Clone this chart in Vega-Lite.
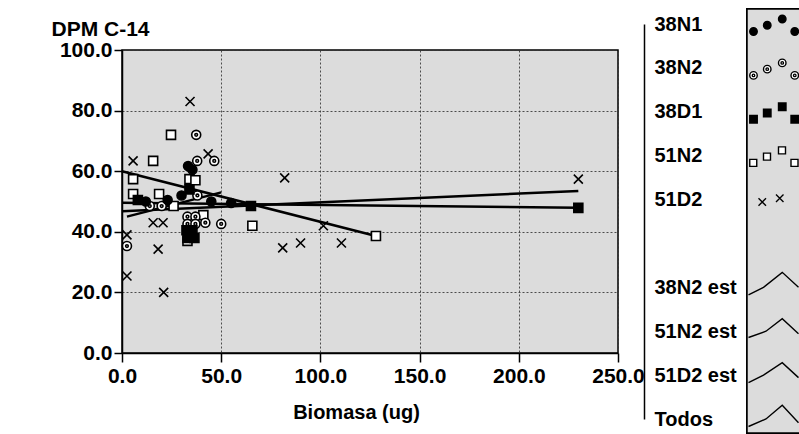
{
  "$schema": "https://vega.github.io/schema/vega-lite/v6.json",
  "background": "white",
  "padding": {"left": 50, "top": 8, "right": 0, "bottom": 0},
  "spacing": -2,
  "config": {
    "font": "Liberation Sans",
    "view": {"fill": "#dcdcdc", "stroke": "black", "strokeWidth": 1.5},
    "axis": {
      "labelFont": "Liberation Sans",
      "titleFont": "Liberation Sans",
      "labelFontWeight": "bold",
      "labelColor": "black",
      "titleColor": "black",
      "domainColor": "black",
      "tickColor": "black",
      "gridColor": "#333333",
      "gridDash": [2, 2],
      "gridOpacity": 0.85,
      "gridWidth": 1
    }
  },
  "resolve": {"scale": {"shape": "independent", "fill": "independent"}},
  "datasets": {
    "puntos": [
      {"serie": "51D2", "biomasa": 34.3, "dpm": 83},
      {"serie": "51D2", "biomasa": 5.6, "dpm": 63.4},
      {"serie": "51D2", "biomasa": 43.4, "dpm": 65.7},
      {"serie": "51D2", "biomasa": 2.5, "dpm": 39},
      {"serie": "51D2", "biomasa": 2.5, "dpm": 25.4},
      {"serie": "51D2", "biomasa": 21, "dpm": 20},
      {"serie": "51D2", "biomasa": 18.2, "dpm": 34.3},
      {"serie": "51D2", "biomasa": 15.7, "dpm": 43},
      {"serie": "51D2", "biomasa": 20.7, "dpm": 43},
      {"serie": "51D2", "biomasa": 82, "dpm": 57.8},
      {"serie": "51D2", "biomasa": 81, "dpm": 34.7},
      {"serie": "51D2", "biomasa": 90, "dpm": 36.3},
      {"serie": "51D2", "biomasa": 110.6, "dpm": 36.3},
      {"serie": "51D2", "biomasa": 101.5, "dpm": 42},
      {"serie": "51D2", "biomasa": 230, "dpm": 57.4},
      {"serie": "51N2", "biomasa": 24.7, "dpm": 72},
      {"serie": "51N2", "biomasa": 15.7, "dpm": 63.4},
      {"serie": "51N2", "biomasa": 5.6, "dpm": 57.4},
      {"serie": "51N2", "biomasa": 5.6, "dpm": 52.5},
      {"serie": "51N2", "biomasa": 18.7, "dpm": 52.5},
      {"serie": "51N2", "biomasa": 34, "dpm": 57.4},
      {"serie": "51N2", "biomasa": 37, "dpm": 57},
      {"serie": "51N2", "biomasa": 65.7, "dpm": 42},
      {"serie": "51N2", "biomasa": 128, "dpm": 38.6},
      {"serie": "51N2", "biomasa": 33, "dpm": 37},
      {"serie": "51N2", "biomasa": 26, "dpm": 48.5},
      {"serie": "51N2", "biomasa": 41, "dpm": 45.5},
      {"serie": "38N2", "biomasa": 37.4, "dpm": 72},
      {"serie": "38N2", "biomasa": 46.5, "dpm": 63.4},
      {"serie": "38N2", "biomasa": 37.9, "dpm": 63.4},
      {"serie": "38N2", "biomasa": 2.5, "dpm": 35.3},
      {"serie": "38N2", "biomasa": 50, "dpm": 42.6},
      {"serie": "38N2", "biomasa": 33, "dpm": 45},
      {"serie": "38N2", "biomasa": 37, "dpm": 45},
      {"serie": "38N2", "biomasa": 33, "dpm": 42.6},
      {"serie": "38N2", "biomasa": 37, "dpm": 42.6},
      {"serie": "38N2", "biomasa": 42, "dpm": 43},
      {"serie": "38N2", "biomasa": 14, "dpm": 48.5},
      {"serie": "38N2", "biomasa": 20, "dpm": 48.5},
      {"serie": "38N2", "biomasa": 38, "dpm": 52},
      {"serie": "38D1", "biomasa": 32.5, "dpm": 40.5},
      {"serie": "38D1", "biomasa": 35.5, "dpm": 40.5},
      {"serie": "38D1", "biomasa": 33, "dpm": 38},
      {"serie": "38D1", "biomasa": 36.5, "dpm": 38},
      {"serie": "38D1", "biomasa": 230, "dpm": 47.9},
      {"serie": "38D1", "biomasa": 65, "dpm": 48.5},
      {"serie": "38D1", "biomasa": 34, "dpm": 54},
      {"serie": "38D1", "biomasa": 8, "dpm": 50.5},
      {"serie": "38N1", "biomasa": 33.3, "dpm": 61.7},
      {"serie": "38N1", "biomasa": 35.5, "dpm": 60.5},
      {"serie": "38N1", "biomasa": 12, "dpm": 50},
      {"serie": "38N1", "biomasa": 23, "dpm": 50.5},
      {"serie": "38N1", "biomasa": 45, "dpm": 50},
      {"serie": "38N1", "biomasa": 55, "dpm": 49.5},
      {"serie": "38N1", "biomasa": 30, "dpm": 52}
    ],
    "rectas": [
      {"serie": "38N2 est", "biomasa": 2.5, "dpm": 45},
      {"serie": "38N2 est", "biomasa": 50, "dpm": 53},
      {"serie": "51N2 est", "biomasa": 0, "dpm": 60},
      {"serie": "51N2 est", "biomasa": 128, "dpm": 38.6},
      {"serie": "51D2 est", "biomasa": 0, "dpm": 46.8},
      {"serie": "51D2 est", "biomasa": 230, "dpm": 53.5},
      {"serie": "Todos", "biomasa": 0, "dpm": 49.6},
      {"serie": "Todos", "biomasa": 230, "dpm": 47.9}
    ],
    "leyenda": [
      {"entrada": "38N1"},
      {"entrada": "38N2"},
      {"entrada": "38D1"},
      {"entrada": "51N2"},
      {"entrada": "51D2"},
      {"entrada": "38N2 est"},
      {"entrada": "51N2 est"},
      {"entrada": "51D2 est"},
      {"entrada": "Todos"}
    ]
  },
  "hconcat": [
    {
      "width": 496,
      "height": 303,
      "encoding": {
        "x": {
          "field": "biomasa",
          "type": "quantitative",
          "scale": {"domain": [0, 250], "nice": false, "zero": true},
          "axis": {
            "title": "Biomasa (ug)",
            "values": [0, 50, 100, 150, 200, 250],
            "format": ".1f",
            "grid": true,
            "tickSize": 9,
            "tickWidth": 1.5,
            "domainWidth": 1.5,
            "labelPadding": 3,
            "labelFontSize": 21,
            "labelFlush": false,
            "labelOverlap": false,
            "titleFontSize": 20,
            "titleFontWeight": "bold",
            "titleX": 234,
            "titleY": 49,
            "titleBaseline": "top",
            "titleAlign": "center"
          }
        },
        "y": {
          "field": "dpm",
          "type": "quantitative",
          "scale": {"domain": [0, 100], "nice": false},
          "axis": {
            "title": "DPM C-14",
            "values": [0, 20, 40, 60, 80, 100],
            "format": ".1f",
            "grid": true,
            "tickSize": 8,
            "tickWidth": 1.5,
            "domainWidth": 1.5,
            "labelPadding": 2,
            "labelFontSize": 21,
            "labelOverlap": false,
            "titleAngle": 0,
            "titleAlign": "left",
            "titleBaseline": "bottom",
            "titleX": -71,
            "titleY": -11,
            "titleFontSize": 21,
            "titleFontWeight": "bold"
          }
        }
      },
      "layer": [
        {
          "data": {"name": "rectas"},
          "mark": {"type": "line", "color": "black", "strokeWidth": 2.5},
          "encoding": {"detail": {"field": "serie", "type": "nominal"}}
        },
        {
          "data": {"name": "puntos"},
          "mark": {"type": "point", "filled": true, "stroke": "black", "strokeWidth": 1.6, "size": 81, "opacity": 1},
          "encoding": {
            "shape": {
              "field": "serie",
              "type": "nominal",
              "scale": {
                "domain": ["38N1", "38N2", "38D1", "51N2", "51D2"],
                "range": [
                  "circle",
                  "M-1,0A1,1,0,1,1,1,0A1,1,0,1,1,-1,0Z M-0.3,0A0.3,0.3,0,1,1,0.3,0A0.3,0.3,0,1,1,-0.3,0Z",
                  "square",
                  "square",
                  "M-1,-1L1,1M-1,1L1,-1"
                ]
              },
              "legend": null
            },
            "fill": {
              "field": "serie",
              "type": "nominal",
              "scale": {
                "domain": ["38N1", "38N2", "38D1", "51N2", "51D2"],
                "range": ["black", "white", "black", "white", "transparent"]
              },
              "legend": null
            }
          }
        }
      ]
    },
    {
      "width": 53,
      "height": 303,
      "view": {"fill": null, "stroke": null},
      "data": {"name": "leyenda"},
      "encoding": {
        "y": {
          "field": "entrada",
          "type": "nominal",
          "scale": {
            "type": "point",
            "domain": ["38N1", "38N2", "38D1", "51N2", "51D2", " ", "38N2 est", "51N2 est", "51D2 est", "Todos"],
            "range": [-26, 369],
            "padding": 0
          },
          "axis": {
            "title": null,
            "orient": "left",
            "offset": 103,
            "ticks": false,
            "domain": true,
            "domainWidth": 1.5,
            "domainColor": "black",
            "grid": false,
            "labelAlign": "left",
            "labelBaseline": "middle",
            "labelPadding": -10,
            "labelFontSize": 20,
            "labelLimit": 0,
            "labelAngle": 0
          }
        }
      },
      "layer": [
        {
          "mark": {"type": "rect", "fill": "#dcdcdc", "stroke": "black", "strokeWidth": 1.5, "yOffset": -15, "y2Offset": 14},
          "encoding": {
            "y": {"datum": "38N1"},
            "y2": {"datum": "Todos"}
          }
        },
        {
          "mark": {"type": "point", "filled": true, "stroke": "black", "strokeWidth": 1.4, "size": 2500, "opacity": 1},
          "encoding": {
            "shape": {
              "field": "entrada",
              "type": "nominal",
              "scale": {
                "domain": ["38N1", "38N2", "38D1", "51N2", "51D2", "38N2 est", "51N2 est", "51D2 est", "Todos"],
                "range": [
                  "M-0.95,0.3A0.15,0.15,0,1,1,-0.65,0.3A0.15,0.15,0,1,1,-0.95,0.3Z M-0.4,0.05A0.15,0.15,0,1,1,-0.1,0.05A0.15,0.15,0,1,1,-0.4,0.05Z M0.2,-0.2A0.15,0.15,0,1,1,0.5,-0.2A0.15,0.15,0,1,1,0.2,-0.2Z M0.7,0.3A0.15,0.15,0,1,1,1,0.3A0.15,0.15,0,1,1,0.7,0.3Z",
                  "M-0.95,0.3A0.15,0.15,0,1,1,-0.65,0.3A0.15,0.15,0,1,1,-0.95,0.3Z M-0.85,0.3A0.05,0.05,0,1,1,-0.75,0.3A0.05,0.05,0,1,1,-0.85,0.3Z M-0.4,0.05A0.15,0.15,0,1,1,-0.1,0.05A0.15,0.15,0,1,1,-0.4,0.05Z M-0.3,0.05A0.05,0.05,0,1,1,-0.2,0.05A0.05,0.05,0,1,1,-0.3,0.05Z M0.2,-0.2A0.15,0.15,0,1,1,0.5,-0.2A0.15,0.15,0,1,1,0.2,-0.2Z M0.3,-0.2A0.05,0.05,0,1,1,0.4,-0.2A0.05,0.05,0,1,1,0.3,-0.2Z M0.7,0.3A0.15,0.15,0,1,1,1,0.3A0.15,0.15,0,1,1,0.7,0.3Z M0.8,0.3A0.05,0.05,0,1,1,0.9,0.3A0.05,0.05,0,1,1,0.8,0.3Z",
                  "M-0.95,0.15h0.3v0.3h-0.3Z M-0.4,-0.1h0.3v0.3h-0.3Z M0.2,-0.35h0.3v0.3h-0.3Z M0.7,0.15h0.3v0.3h-0.3Z",
                  "M-0.95,0.15h0.28v0.28h-0.28Z M-0.4,-0.1h0.28v0.28h-0.28Z M0.2,-0.35h0.28v0.28h-0.28Z M0.7,0.15h0.28v0.28h-0.28Z",
                  "M-0.6,-0.05L-0.3,0.25M-0.6,0.25L-0.3,-0.05 M0.1,-0.2L0.4,0.1M0.1,0.1L0.4,-0.2",
                  "M-1,0.3L-0.4,0L0.35,-0.6L1,0",
                  "M-1,0.25L-0.3,0L0.35,-0.5L1,0.1",
                  "M-1,0.3L-0.4,0L0.35,-0.5L1,0.1",
                  "M-1,0.3L-0.3,0L0.35,-0.55L1,0.15"
                ]
              },
              "legend": null
            },
            "fill": {
              "field": "entrada",
              "type": "nominal",
              "scale": {
                "domain": ["38N1", "38N2", "38D1", "51N2", "51D2", "38N2 est", "51N2 est", "51D2 est", "Todos"],
                "range": ["black", "white", "black", "white", "transparent", "transparent", "transparent", "transparent", "transparent"]
              },
              "legend": null
            }
          }
        }
      ]
    }
  ]
}
